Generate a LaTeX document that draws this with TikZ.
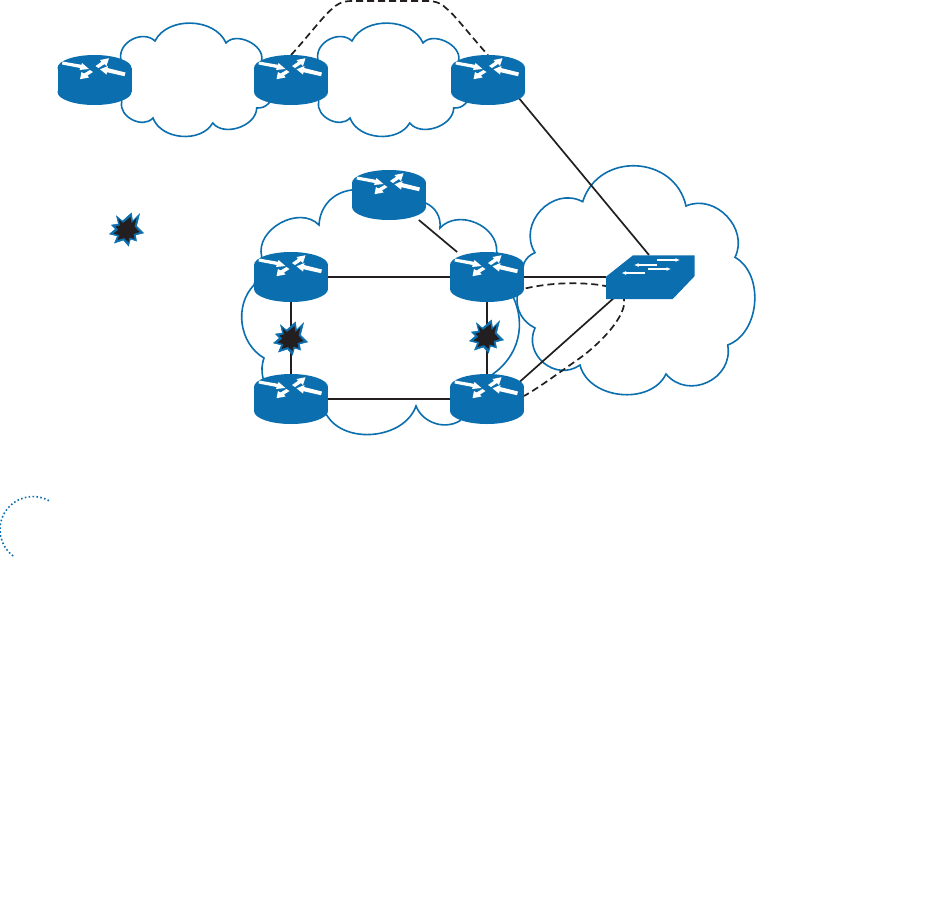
\documentclass[tikz,border=0pt]{standalone}
\usetikzlibrary{arrows.meta}
\definecolor{ciscoblue}{HTML}{0B6FAF}
\definecolor{inkblack}{HTML}{231F20}
\tikzset{
  routerbox/.style={minimum width=74pt,minimum height=50pt,inner sep=0pt,outer sep=0pt},
  switchbox/.style={minimum width=89pt,minimum height=44pt,inner sep=0pt,outer sep=0pt},
  burstbox/.style={minimum size=30pt,inner sep=0pt,outer sep=0pt},
  cloudline/.style={draw=ciscoblue,line width=1.6pt,line join=miter},
  link/.style={draw=inkblack,line width=1.7pt},
  dashlink/.style={draw=inkblack,line width=1.7pt,dash pattern=on 7pt off 4pt},
  lobe/.style={bend left=#1},
  router/.pic={
    \fill[ciscoblue] (0,-12) ellipse[x radius=37,y radius=13];
    \fill[ciscoblue] (0,12) ellipse[x radius=37,y radius=13];
    \fill[ciscoblue] (-37,-12) rectangle (37,12);
    \fill[white] (-32,-18.5) -- (-13,-15.2) -- (-12.5,-17) -- (-5.5,-11) -- (-15,-10) -- (-14.3,-12) -- (-32.5,-15.5) -- cycle;
    \fill[white] (31,-7.5) -- (13,-12) -- (13.5,-14) -- (5.5,-10.7) -- (12,-5.5) -- (12.5,-7.8) -- (30,-3.8) -- cycle;
    \fill[white] (1,-14) -- (7,-18.2) -- (5.5,-20) -- (14.5,-21.8) -- (12,-14) -- (10,-16) -- (4,-12) -- cycle;
    \fill[white] (-1.5,-8) -- (-7,-4.5) -- (-5.5,-2.5) -- (-14.5,-0.8) -- (-13,-8) -- (-10.5,-6.5) -- (-4.5,-10) -- cycle;
  },
  switchicon/.pic={
    \fill[ciscoblue] (-44,-0.3) -- (-17,-21.7) -- (44.7,-21.7) -- (44.7,-1) -- (22.7,22) -- (-44,22) -- cycle;
    \draw[white,line width=1.1pt,{Latex[length=4.5pt,width=4pt]}-] (-16,-12) -- (7,-12);
    \draw[white,line width=1.1pt,-{Latex[length=4.5pt,width=4pt]}] (7,-17) -- (30,-17);
    \draw[white,line width=1.1pt,-{Latex[length=4.5pt,width=4pt]}] (-2,-8) -- (21,-8);
    \draw[white,line width=1.1pt,{Latex[length=4.5pt,width=4pt]}-] (-28.500,-4) -- (-5,-4);
  },
  burst/.pic={
    \fill[ciscoblue,draw=ciscoblue,line width=0.5pt] (-10,-15) -- (-4,-10) -- (5,-18) -- (6,-10) -- (13,-17) -- (10,-5) -- (17,2) -- (9,4) -- (10,10) -- (4,8) -- (2,15) -- (-3,9) -- (-12,12) -- (-9,5) -- (-17,3) -- (-11,-2) -- (-15,-6) -- (-8,-7) -- cycle;
    \fill[inkblack] (-8,-12) -- (-3.5,-8) -- (4,-14) -- (5,-8) -- (10,-13) -- (8,-4.500) -- (13,1) -- (7,3) -- (8,8) -- (3,6.500) -- (2,11) -- (-2.500,7) -- (-9,9) -- (-7,4) -- (-13,2.500) -- (-8,-1.500) -- (-11,-4.500) -- (-6.500,-5.500) -- cycle;
  },
}
\begin{document}
\begin{tikzpicture}[x=1pt,y=-1pt]
\fill[white] (0,0) rectangle (940,919);
\useasboundingbox (0,0) rectangle (940,919);
% node anchors
\node[routerbox] (R1) at (94.5,80) {};
\node[routerbox] (R2) at (291,80) {};
\node[routerbox] (R3) at (488,80) {};
\node[routerbox] (RT) at (389,195) {};
\node[routerbox] (RL) at (291,277) {};
\node[routerbox] (RR) at (487,277) {};
\node[routerbox] (BL) at (291,399) {};
\node[routerbox] (BR) at (487,399) {};
\node[switchbox] (SW) at (650,277) {};
\node[burstbox] (B0) at (126.5,231) {};
\node[burstbox] (B1) at (290.5,340) {};
\node[burstbox] (B2) at (486.5,338) {};
% clouds
\foreach \dx in {0,197}{
\begin{scope}[xshift=\dx pt]
\draw[cloudline] (120.7,58) to[lobe=70,looseness=1.1] (155,41) to[lobe=65] (226,43) to[lobe=75] (261.7,60)
  -- (269,103) to[lobe=25] (256.7,108) to[lobe=70] (212.7,123) to[lobe=65] (153,118) to[lobe=75,looseness=1.1] (121.7,102) -- cycle;
\end{scope}}
\draw[cloudline] (261.7,256.7) to[lobe=75,looseness=1.1] (319,225) to[lobe=40] (351.7,190) -- (425.7,203)
  to[lobe=35] (440,228) to[lobe=70,looseness=1.1] (496.7,251.7) -- (513,296.7)
  to[lobe=40] (493,374) -- (460,420.7) to[lobe=50] (416,406) to[lobe=65] (326.7,415) -- (263,378)
  to[lobe=15] (264,358) to[lobe=52] (254,285) -- cycle;
\draw[cloudline] (524,263) to[lobe=20] (535,252.7) to[lobe=75,looseness=1.25] (582.7,201.7)
  to[lobe=75,looseness=1.3] (686,206) to[lobe=70,looseness=1.15] (735,257.3)
  to[lobe=65] (727.7,345) to[lobe=75,looseness=1.3] (666,374) to[lobe=70,looseness=1.05] (580,365)
  to[lobe=75,looseness=1.3] (535,328) to[lobe=35] (517.3,295) -- cycle;
% connectors
\draw[link] (RL) -- (RR);
\draw[link] (BL) -- (BR);
\draw[link] (RL) -- (BL);
\draw[link] (RR) -- (BR);
\draw[link] (RT) -- (RR);
\draw[link] (RR) -- (SW);
\draw[link] ([shift={(20,5)}]R3.center) -- ([shift={(-1,0)}]SW.north);
\draw[link] ([shift={(10,3)}]BR.center) -- ([shift={(-35,-2)}]SW.south);
\draw[dashlink] (R2.north) .. controls (305,40) and (325,14) .. (332,9) .. controls (337,4) and (342,1) .. (352,1)
  -- (427,1) .. controls (437,1) and (442,4) .. (447,9) .. controls (454,14) and (474,40) .. (R3.north);
\draw[dashlink] ([shift={(28,14)}]RR.center) .. controls (540,284) and (570,281) .. (600,285)
  .. controls (620,288) and (626,298) .. (624,305) .. controls (621,322) and (598,345) .. (580,358)
  .. controls (560,372) and (540,387) .. ([shift={(37,-3)}]BR.center);
% icons
\foreach \n in {R1,R2,R3,RT,RL,RR,BL,BR}{\pic at (\n) {router};}
\pic at (SW) {switchicon};
\foreach \n in {B0,B1,B2}{\pic at (\n) {burst};}
% dotted arc
\draw[ciscoblue,line width=1.6pt,dash pattern=on 1.6pt off 2.3pt] (49,500.7) arc[start angle=-61,end angle=-233.5,radius=33];
\end{tikzpicture}
\end{document}
